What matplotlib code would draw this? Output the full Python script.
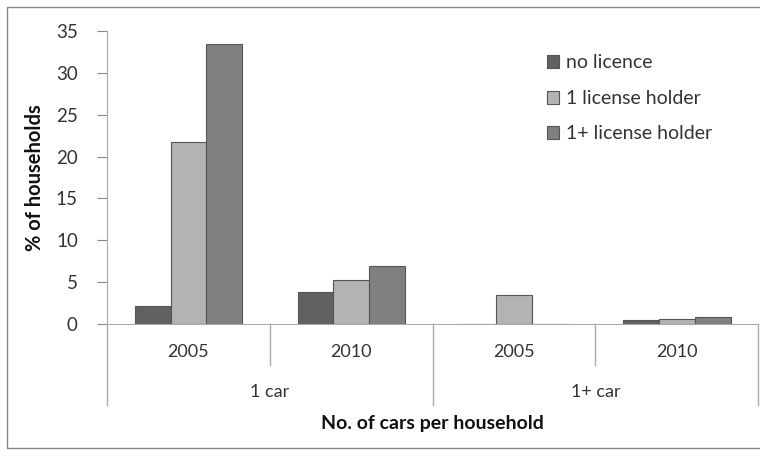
import matplotlib.pyplot as plt
import matplotlib.patches as patches
import numpy as np

plt.rcParams['font.family'] = ['Lato', 'DejaVu Sans']

years = ['2005', '2010', '2005', '2010']
car_groups = ['1 car', '1+ car']
series_names = ['no licence', '1 license holder', '1+ license holder']
no_licence = [2.1, 3.8, 0.0, 0.5]
one_holder = [21.7, 5.2, 3.5, 0.6]
more_holders = [33.4, 6.9, 0.0, 0.85]
colors = ['#616161', '#b3b3b3', '#808080']

fig = plt.figure(figsize=(7.6, 4.5), dpi=100)
ax = fig.add_axes([0.1408, 0.28, 0.857, 0.651])

x = np.arange(len(years))
w = 0.22
for i, (vals, name) in enumerate(zip([no_licence, one_holder, more_holders], series_names)):
    ax.bar(x + (i - 1) * w, vals, w, color=colors[i], edgecolor='#555555',
           linewidth=0.8, label=name, zorder=3)

ax.set_xlim(-0.5, len(years) - 0.5)
ax.set_ylim(0, 35)
ax.set_yticks(range(0, 36, 5))
ax.tick_params(axis='y', length=7, color='#888888', labelsize=13.5,
               labelcolor='#333333', pad=14)
ax.set_xticks([])
for s in ['top', 'right']:
    ax.spines[s].set_visible(False)
ax.spines['bottom'].set_color('#aaaaaa')
ax.spines['left'].set_color('#aaaaaa')

# multi-level category axis
tr = ax.get_xaxis_transform()
line_kw = dict(color='#aaaaaa', linewidth=1, transform=tr, clip_on=False)
ax.plot([-0.5, -0.5], [0, -0.276], **line_kw)
ax.plot([1.5, 1.5], [0, -0.276], **line_kw)
ax.plot([3.5, 3.5], [0, -0.276], **line_kw)
ax.plot([0.5, 0.5], [0, -0.14], **line_kw)
ax.plot([2.5, 2.5], [0, -0.14], **line_kw)
for xi, yr in zip(x, years):
    ax.text(xi, -0.096, yr, transform=tr, ha='center', va='center',
            fontsize=13, color='#333333')
for gi, g in enumerate(car_groups):
    ax.text(gi * 2 + 0.5, -0.232, g, transform=tr, ha='center', va='center',
            fontsize=13, color='#333333')
ax.text(1.5, -0.338, 'No. of cars per household', transform=tr, ha='center',
        va='center', fontsize=14, fontweight='bold', color='#111111')

ax.set_ylabel('% of households', fontsize=14.5, fontweight='bold', color='#111111',
              labelpad=8)

ax.legend(loc='upper left', bbox_to_anchor=(0.648, 0.98), frameon=False,
          fontsize=14, handlelength=0.65, handleheight=0.65, handletextpad=0.35,
          labelspacing=0.95, labelcolor='#333333')

# chart border
fig.patches.append(patches.Rectangle((7 / 760, 2 / 450), 1.0, 441 / 450,
                                     transform=fig.transFigure, fill=False,
                                     edgecolor='#888888', linewidth=1))

fig.savefig('out.png', dpi=100)
